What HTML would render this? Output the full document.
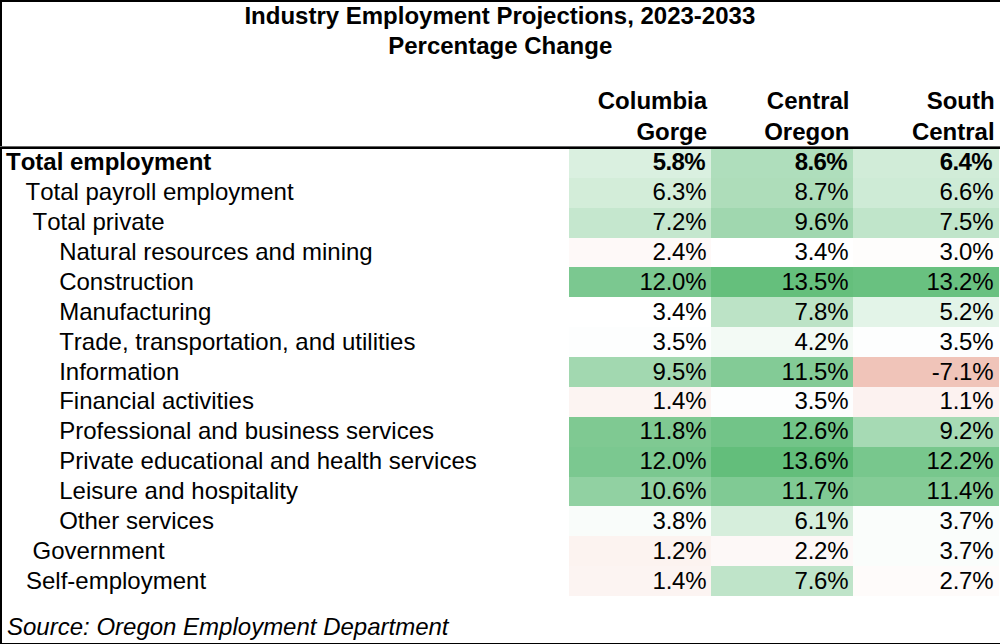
<!DOCTYPE html>
<html><head><meta charset="utf-8"><style>
html,body{margin:0;padding:0;background:#fff;}
#c{font-kerning:none;position:relative;width:1000px;height:644px;overflow:hidden;background:#fff;font-family:"Liberation Sans",sans-serif;font-size:24px;color:#000;}
.t{position:absolute;white-space:nowrap;line-height:24px;height:24px;}
.r{text-align:right;}
.b{font-weight:bold;}
.bg{position:absolute;}
.ln{position:absolute;background:#000;}
</style></head><body><div id="c">
<div class="bg" style="left:569px;top:148.00px;width:142px;height:29.87px;background:#DAF0E0"></div>
<div class="bg" style="left:711px;top:148.00px;width:142px;height:29.87px;background:#AFDEBC"></div>
<div class="bg" style="left:853px;top:148.00px;width:146px;height:29.87px;background:#D1ECD8"></div>
<div class="bg" style="left:569px;top:177.87px;width:142px;height:29.87px;background:#D3EDD9"></div>
<div class="bg" style="left:711px;top:177.87px;width:142px;height:29.87px;background:#AEDDBA"></div>
<div class="bg" style="left:853px;top:177.87px;width:146px;height:29.87px;background:#CEEBD6"></div>
<div class="bg" style="left:569px;top:207.74px;width:142px;height:29.87px;background:#C5E7CE"></div>
<div class="bg" style="left:711px;top:207.74px;width:142px;height:29.87px;background:#A0D7AF"></div>
<div class="bg" style="left:853px;top:207.74px;width:146px;height:29.87px;background:#C0E5CA"></div>
<div class="bg" style="left:569px;top:237.61px;width:142px;height:29.87px;background:#FEF9F8"></div>
<div class="bg" style="left:711px;top:237.61px;width:142px;height:29.87px;background:#FFFFFF"></div>
<div class="bg" style="left:853px;top:237.61px;width:146px;height:29.87px;background:#FEFDFC"></div>
<div class="bg" style="left:569px;top:267.48px;width:142px;height:29.87px;background:#7BC890"></div>
<div class="bg" style="left:711px;top:267.48px;width:142px;height:29.87px;background:#65BF7C"></div>
<div class="bg" style="left:853px;top:267.48px;width:146px;height:29.87px;background:#69C180"></div>
<div class="bg" style="left:569px;top:297.35px;width:142px;height:29.87px;background:#FFFFFF"></div>
<div class="bg" style="left:711px;top:297.35px;width:142px;height:29.87px;background:#BCE3C6"></div>
<div class="bg" style="left:853px;top:297.35px;width:146px;height:29.87px;background:#E3F4E8"></div>
<div class="bg" style="left:569px;top:327.22px;width:142px;height:29.87px;background:#FDFEFE"></div>
<div class="bg" style="left:711px;top:327.22px;width:142px;height:29.87px;background:#F3FAF5"></div>
<div class="bg" style="left:853px;top:327.22px;width:146px;height:29.87px;background:#FDFEFE"></div>
<div class="bg" style="left:569px;top:357.09px;width:142px;height:29.87px;background:#A2D8B0"></div>
<div class="bg" style="left:711px;top:357.09px;width:142px;height:29.87px;background:#83CB96"></div>
<div class="bg" style="left:853px;top:357.09px;width:146px;height:29.87px;background:#F0C4B9"></div>
<div class="bg" style="left:569px;top:386.96px;width:142px;height:29.87px;background:#FCF4F2"></div>
<div class="bg" style="left:711px;top:386.96px;width:142px;height:29.87px;background:#FDFEFE"></div>
<div class="bg" style="left:853px;top:386.96px;width:146px;height:29.87px;background:#FCF2F0"></div>
<div class="bg" style="left:569px;top:416.83px;width:142px;height:29.87px;background:#7FC992"></div>
<div class="bg" style="left:711px;top:416.83px;width:142px;height:29.87px;background:#72C488"></div>
<div class="bg" style="left:853px;top:416.83px;width:146px;height:29.87px;background:#A6DAB4"></div>
<div class="bg" style="left:569px;top:446.70px;width:142px;height:29.87px;background:#7BC890"></div>
<div class="bg" style="left:711px;top:446.70px;width:142px;height:29.87px;background:#63BE7B"></div>
<div class="bg" style="left:853px;top:446.70px;width:146px;height:29.87px;background:#78C78D"></div>
<div class="bg" style="left:569px;top:476.57px;width:142px;height:29.87px;background:#91D1A2"></div>
<div class="bg" style="left:711px;top:476.57px;width:142px;height:29.87px;background:#80CA94"></div>
<div class="bg" style="left:853px;top:476.57px;width:146px;height:29.87px;background:#85CC97"></div>
<div class="bg" style="left:569px;top:506.44px;width:142px;height:29.87px;background:#F9FCFA"></div>
<div class="bg" style="left:711px;top:506.44px;width:142px;height:29.87px;background:#D6EEDC"></div>
<div class="bg" style="left:853px;top:506.44px;width:146px;height:29.87px;background:#FAFDFB"></div>
<div class="bg" style="left:569px;top:536.31px;width:142px;height:29.87px;background:#FCF3F0"></div>
<div class="bg" style="left:711px;top:536.31px;width:142px;height:29.87px;background:#FDF8F7"></div>
<div class="bg" style="left:853px;top:536.31px;width:146px;height:29.87px;background:#FAFDFB"></div>
<div class="bg" style="left:569px;top:566.18px;width:142px;height:29.87px;background:#FCF4F2"></div>
<div class="bg" style="left:711px;top:566.18px;width:142px;height:29.87px;background:#BFE4C9"></div>
<div class="bg" style="left:853px;top:566.18px;width:146px;height:29.87px;background:#FEFBFA"></div>
<div class="t b" style="left:6.0px;top:150.28px">Total employment</div>
<div class="t b r" style="right:294.90px;top:150.28px;letter-spacing:-0.60px">5.8%</div>
<div class="t b r" style="right:152.90px;top:150.28px;letter-spacing:-0.60px">8.6%</div>
<div class="t b r" style="right:7.90px;top:150.28px;letter-spacing:-0.60px">6.4%</div>
<div class="t" style="left:25.5px;top:180.18px">Total payroll employment</div>
<div class="t r" style="right:293.75px;top:180.18px;letter-spacing:-0.25px">6.3%</div>
<div class="t r" style="right:151.75px;top:180.18px;letter-spacing:-0.25px">8.7%</div>
<div class="t r" style="right:6.75px;top:180.18px;letter-spacing:-0.25px">6.6%</div>
<div class="t" style="left:32.5px;top:210.08px">Total private</div>
<div class="t r" style="right:293.75px;top:210.08px;letter-spacing:-0.25px">7.2%</div>
<div class="t r" style="right:151.75px;top:210.08px;letter-spacing:-0.25px">9.6%</div>
<div class="t r" style="right:6.75px;top:210.08px;letter-spacing:-0.25px">7.5%</div>
<div class="t" style="left:59.2px;top:239.98px">Natural resources and mining</div>
<div class="t r" style="right:293.75px;top:239.98px;letter-spacing:-0.25px">2.4%</div>
<div class="t r" style="right:151.75px;top:239.98px;letter-spacing:-0.25px">3.4%</div>
<div class="t r" style="right:6.75px;top:239.98px;letter-spacing:-0.25px">3.0%</div>
<div class="t" style="left:59.2px;top:269.88px">Construction</div>
<div class="t r" style="right:293.75px;top:269.88px;letter-spacing:-0.25px">12.0%</div>
<div class="t r" style="right:151.75px;top:269.88px;letter-spacing:-0.25px">13.5%</div>
<div class="t r" style="right:6.75px;top:269.88px;letter-spacing:-0.25px">13.2%</div>
<div class="t" style="left:59.2px;top:299.78px">Manufacturing</div>
<div class="t r" style="right:293.75px;top:299.78px;letter-spacing:-0.25px">3.4%</div>
<div class="t r" style="right:151.75px;top:299.78px;letter-spacing:-0.25px">7.8%</div>
<div class="t r" style="right:6.75px;top:299.78px;letter-spacing:-0.25px">5.2%</div>
<div class="t" style="left:59.2px;top:329.68px">Trade, transportation, and utilities</div>
<div class="t r" style="right:293.75px;top:329.68px;letter-spacing:-0.25px">3.5%</div>
<div class="t r" style="right:151.75px;top:329.68px;letter-spacing:-0.25px">4.2%</div>
<div class="t r" style="right:6.75px;top:329.68px;letter-spacing:-0.25px">3.5%</div>
<div class="t" style="left:59.2px;top:359.58px">Information</div>
<div class="t r" style="right:293.75px;top:359.58px;letter-spacing:-0.25px">9.5%</div>
<div class="t r" style="right:151.75px;top:359.58px;letter-spacing:-0.25px">11.5%</div>
<div class="t r" style="right:6.75px;top:359.58px;letter-spacing:-0.25px">-7.1%</div>
<div class="t" style="left:59.2px;top:389.48px">Financial activities</div>
<div class="t r" style="right:293.75px;top:389.48px;letter-spacing:-0.25px">1.4%</div>
<div class="t r" style="right:151.75px;top:389.48px;letter-spacing:-0.25px">3.5%</div>
<div class="t r" style="right:6.75px;top:389.48px;letter-spacing:-0.25px">1.1%</div>
<div class="t" style="left:59.2px;top:419.38px">Professional and business services</div>
<div class="t r" style="right:293.75px;top:419.38px;letter-spacing:-0.25px">11.8%</div>
<div class="t r" style="right:151.75px;top:419.38px;letter-spacing:-0.25px">12.6%</div>
<div class="t r" style="right:6.75px;top:419.38px;letter-spacing:-0.25px">9.2%</div>
<div class="t" style="left:59.2px;top:449.28px">Private educational and health services</div>
<div class="t r" style="right:293.75px;top:449.28px;letter-spacing:-0.25px">12.0%</div>
<div class="t r" style="right:151.75px;top:449.28px;letter-spacing:-0.25px">13.6%</div>
<div class="t r" style="right:6.75px;top:449.28px;letter-spacing:-0.25px">12.2%</div>
<div class="t" style="left:59.2px;top:479.18px">Leisure and hospitality</div>
<div class="t r" style="right:293.75px;top:479.18px;letter-spacing:-0.25px">10.6%</div>
<div class="t r" style="right:151.75px;top:479.18px;letter-spacing:-0.25px">11.7%</div>
<div class="t r" style="right:6.75px;top:479.18px;letter-spacing:-0.25px">11.4%</div>
<div class="t" style="left:59.2px;top:509.08px">Other services</div>
<div class="t r" style="right:293.75px;top:509.08px;letter-spacing:-0.25px">3.8%</div>
<div class="t r" style="right:151.75px;top:509.08px;letter-spacing:-0.25px">6.1%</div>
<div class="t r" style="right:6.75px;top:509.08px;letter-spacing:-0.25px">3.7%</div>
<div class="t" style="left:32.5px;top:538.98px">Government</div>
<div class="t r" style="right:293.75px;top:538.98px;letter-spacing:-0.25px">1.2%</div>
<div class="t r" style="right:151.75px;top:538.98px;letter-spacing:-0.25px">2.2%</div>
<div class="t r" style="right:6.75px;top:538.98px;letter-spacing:-0.25px">3.7%</div>
<div class="t" style="left:26.0px;top:568.88px">Self-employment</div>
<div class="t r" style="right:293.75px;top:568.88px;letter-spacing:-0.25px">1.4%</div>
<div class="t r" style="right:151.75px;top:568.88px;letter-spacing:-0.25px">7.6%</div>
<div class="t r" style="right:6.75px;top:568.88px;letter-spacing:-0.25px">2.7%</div>
<div class="t b r" style="right:292.9px;top:89.28px">Columbia</div>
<div class="t b r" style="right:292.9px;top:120.18px">Gorge</div>
<div class="t b r" style="right:150.5px;top:89.28px">Central</div>
<div class="t b r" style="right:150.5px;top:120.18px">Oregon</div>
<div class="t b r" style="right:5.4px;top:89.28px">South</div>
<div class="t b r" style="right:5.4px;top:120.18px">Central</div>
<div class="t b" style="left:244.4px;top:3.98px">Industry Employment Projections, 2023-2033</div>
<div class="t b" style="left:388.2px;top:33.98px">Percentage Change</div>
<div class="t" style="left:7px;top:614.68px;font-style:italic">Source: Oregon Employment Department</div>
<div class="ln" style="left:0;top:0;width:1000px;height:2px"></div>
<div class="ln" style="left:0;top:0;width:2px;height:644px"></div>
<div class="ln" style="left:0;top:146px;width:1000px;height:1px;background:#666"></div>
<div class="ln" style="left:0;top:147px;width:1000px;height:2px"></div>
<div class="ln" style="left:0;top:643px;width:1000px;height:1px"></div>
</div></body></html>
